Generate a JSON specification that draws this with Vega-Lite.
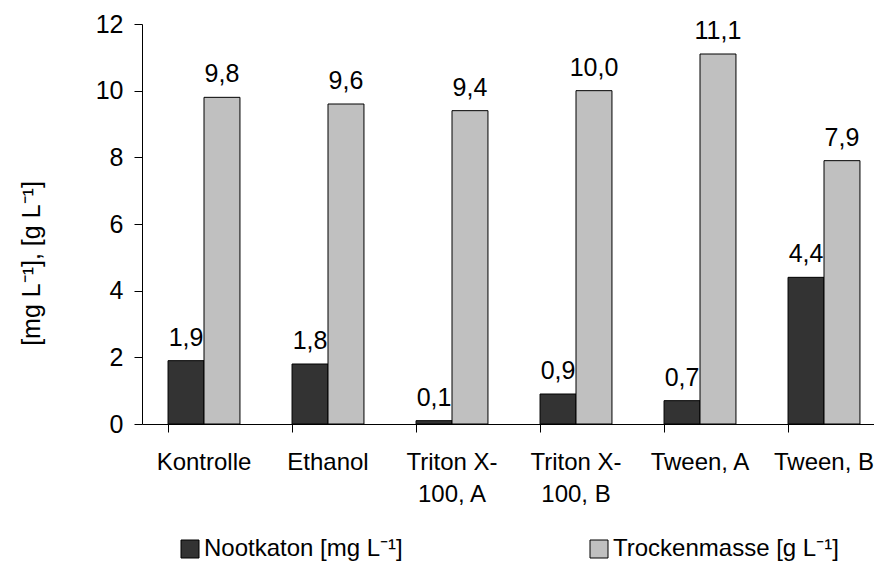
{
  "$schema": "https://vega.github.io/schema/vega-lite/v6.json",
  "autosize": {"type": "none"},
  "width": 732,
  "height": 400,
  "padding": {"left": 142, "top": 24, "right": 0, "bottom": 139},
  "background": "white",
  "config": {
    "font": "Liberation Sans",
    "view": {"stroke": null},
    "locale": {"number": {"decimal": ",", "thousands": ".", "grouping": [3], "currency": ["", " €"]}}
  },
  "data": {
    "values": [
      {"Kategorie": "Kontrolle", "Serie": "Nootkaton [mg L⁻¹]", "Wert": 1.9},
      {"Kategorie": "Kontrolle", "Serie": "Trockenmasse [g L⁻¹]", "Wert": 9.8},
      {"Kategorie": "Ethanol", "Serie": "Nootkaton [mg L⁻¹]", "Wert": 1.8},
      {"Kategorie": "Ethanol", "Serie": "Trockenmasse [g L⁻¹]", "Wert": 9.6},
      {"Kategorie": "Triton X-100, A", "Serie": "Nootkaton [mg L⁻¹]", "Wert": 0.1},
      {"Kategorie": "Triton X-100, A", "Serie": "Trockenmasse [g L⁻¹]", "Wert": 9.4},
      {"Kategorie": "Triton X-100, B", "Serie": "Nootkaton [mg L⁻¹]", "Wert": 0.9},
      {"Kategorie": "Triton X-100, B", "Serie": "Trockenmasse [g L⁻¹]", "Wert": 10.0},
      {"Kategorie": "Tween, A", "Serie": "Nootkaton [mg L⁻¹]", "Wert": 0.7},
      {"Kategorie": "Tween, A", "Serie": "Trockenmasse [g L⁻¹]", "Wert": 11.1},
      {"Kategorie": "Tween, B", "Serie": "Nootkaton [mg L⁻¹]", "Wert": 4.4},
      {"Kategorie": "Tween, B", "Serie": "Trockenmasse [g L⁻¹]", "Wert": 7.9}
    ]
  },
  "encoding": {
    "x": {
      "field": "Kategorie",
      "type": "nominal",
      "sort": null,
      "scale": {"range": [0, 744], "paddingInner": 0.42, "paddingOuter": 0.21},
      "axis": {
        "title": null,
        "bandPosition": 0,
        "domainColor": "black",
        "tickColor": "black",
        "tickSize": 8,
        "labelAngle": 0,
        "labelFontSize": 24,
        "labelColor": "black",
        "labelBaseline": "alphabetic",
        "labelPadding": 37,
        "labelLineHeight": 32,
        "labelOverlap": false,
        "labelBound": false,
        "labelFlush": false,
        "labelExpr": "indexof(datum.value, 'Triton') == 0 ? [slice(datum.value, 0, 9), slice(datum.value, 9)] : datum.value"
      }
    },
    "xOffset": {
      "field": "Serie",
      "type": "nominal",
      "scale": {"domain": ["Nootkaton [mg L⁻¹]", "Trockenmasse [g L⁻¹]"], "paddingInner": 0, "paddingOuter": 0}
    },
    "y": {
      "field": "Wert",
      "type": "quantitative",
      "scale": {"domain": [0, 12], "nice": false},
      "axis": {
        "title": "[mg L⁻¹], [g L⁻¹]",
        "titleFontSize": 25,
        "titleFontWeight": "normal",
        "titleColor": "black",
        "titleAngle": 270,
        "titleAlign": "center",
        "titleBaseline": "middle",
        "titleX": -111,
        "titleY": 239,
        "values": [0, 2, 4, 6, 8, 10, 12],
        "grid": false,
        "domainColor": "black",
        "tickColor": "black",
        "tickSize": 8,
        "labelFontSize": 25,
        "labelColor": "black",
        "labelPadding": 11,
        "format": "d"
      }
    }
  },
  "layer": [
    {
      "mark": {"type": "bar", "stroke": "black", "strokeWidth": 1},
      "encoding": {
        "color": {
          "field": "Serie",
          "type": "nominal",
          "scale": {"domain": ["Nootkaton [mg L⁻¹]", "Trockenmasse [g L⁻¹]"], "range": ["#333333", "#c0c0c0"]},
          "legend": {
            "title": null,
            "orient": "none",
            "legendX": 36,
            "legendY": 513,
            "direction": "horizontal",
            "columns": 2,
            "columnPadding": 184,
            "symbolType": "square",
            "symbolSize": 324,
            "symbolStrokeColor": "black",
            "symbolStrokeWidth": 1,
            "symbolOpacity": 1,
            "labelFontSize": 24,
            "labelColor": "black",
            "labelOffset": 2,
            "labelLimit": 400
          }
        }
      }
    },
    {
      "mark": {"type": "text", "fontSize": 25, "color": "black", "baseline": "alphabetic", "align": "center", "dy": -15},
      "encoding": {
        "text": {"field": "Wert", "type": "quantitative", "format": ".1f"}
      }
    }
  ]
}
